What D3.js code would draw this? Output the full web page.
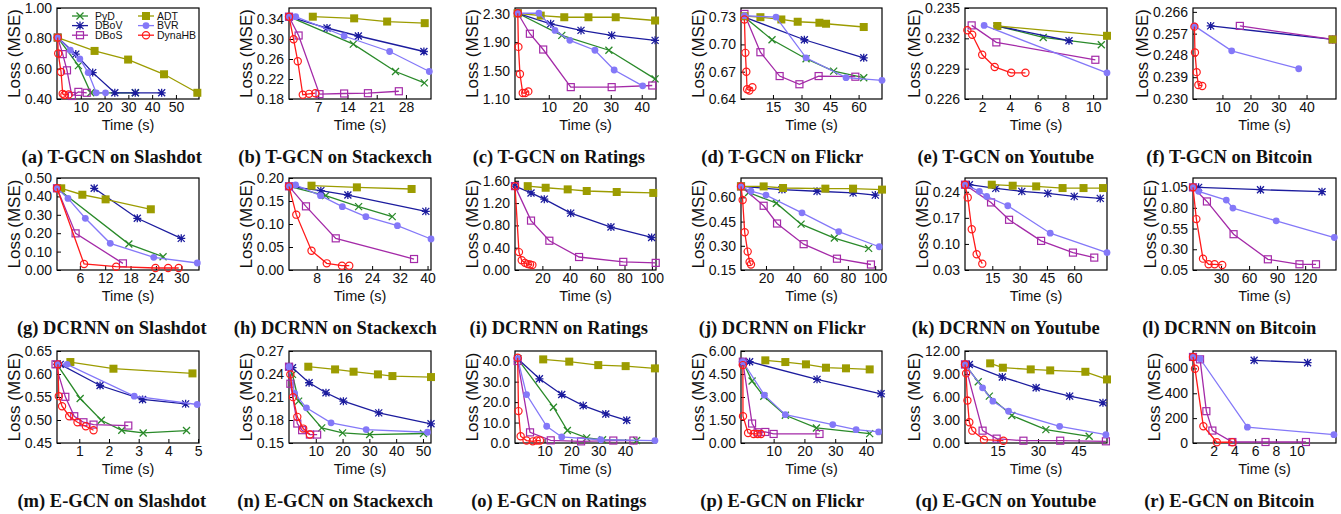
<!DOCTYPE html>
<html>
<head>
<meta charset="utf-8">
<script src="https://cdn.jsdelivr.net/npm/d3@7"></script>
<style>
  body { margin: 0; background: #fff; }
  svg { display: block; }
</style>
</head>
<body>
<svg id="chart" width="1341" height="514"></svg>
<script>
// series in gnuplot order (legend is column-major)
const seriesNames = ["PyD", "DBoV", "DBoS", "ADT", "BVR", "DynaHB"];

const captions = [
  "(a) T-GCN on Slashdot", "(b) T-GCN on Stackexch", "(c) T-GCN on Ratings",
  "(d) T-GCN on Flickr", "(e) T-GCN on Youtube", "(f) T-GCN on Bitcoin",
  "(g) DCRNN on Slashdot", "(h) DCRNN on Stackexch", "(i) DCRNN on Ratings",
  "(j) DCRNN on Flickr", "(k) DCRNN on Youtube", "(l) DCRNN on Bitcoin",
  "(m) E-GCN on Slashdot", "(n) E-GCN on Stackexch", "(o) E-GCN on Ratings",
  "(p) E-GCN on Flickr", "(q) E-GCN on Youtube", "(r) E-GCN on Bitcoin"
];

const xDomains = [
  [0, 59.7], [0, 34], [-0.9, 44.6], [-1.8, 72.3], [0.76, 11.0], [-0.5, 50.5],
  [0.6, 34.2], [0, 41], [0, 103], [1.7, 105], [0, 78], [0, 153],
  [0.25, 5.03], [0, 53], [-1, 51.5], [-0.6, 45.2], [3, 55.5], [0, 13.8]
];
const yDomains = [
  [0.40, 1.00], [0.18, 0.362], [1.10, 2.38], [0.64, 0.74], [0.226, 0.235], [0.230, 0.2676],
  [0, 0.5], [0, 0.20], [0, 1.65], [0.15, 0.72], [0.03, 0.277], [0.05, 1.16],
  [0.45, 0.65], [0.15, 0.27], [0, 45], [0, 6], [0, 12], [0, 740]
];
const xTicks = [
  [10, 20, 30, 40, 50], [7, 14, 21, 28], [10, 20, 30, 40], [15, 30, 45, 60], [2, 4, 6, 8, 10], [10, 20, 30, 40],
  [6, 12, 18, 24, 30], [8, 16, 24, 32, 40], [20, 40, 60, 80, 100], [20, 40, 60, 80, 100], [15, 30, 45, 60], [30, 60, 90, 120],
  [1, 2, 3, 4, 5], [10, 20, 30, 40, 50], [10, 20, 30, 40], [10, 20, 30, 40], [15, 30, 45], [2, 4, 6, 8, 10]
];
const yTicks = [
  [0.40, 0.60, 0.80, 1.00], [0.18, 0.22, 0.26, 0.30, 0.34], [1.10, 1.50, 1.90, 2.30], [0.64, 0.67, 0.70, 0.73],
  [0.226, 0.229, 0.232, 0.235], [0.230, 0.239, 0.248, 0.257, 0.266],
  [0, 0.1, 0.2, 0.3, 0.4, 0.5], [0, 0.05, 0.10, 0.15, 0.20], [0, 0.4, 0.8, 1.2, 1.6], [0.15, 0.30, 0.45, 0.60],
  [0.03, 0.10, 0.17, 0.24], [0.05, 0.30, 0.55, 0.80, 1.05],
  [0.45, 0.50, 0.55, 0.60, 0.65], [0.15, 0.18, 0.21, 0.24, 0.27], [0, 10, 20, 30, 40], [0, 1.5, 3, 4.5, 6],
  [0, 3, 6, 9, 12], [0, 200, 400, 600]
];
const yFormats = [
  ".2f", ".2f", ".2f", ".2f", ".3f", ".3f",
  ".2f", ".2f", ".2f", ".2f", ".2f", ".2f",
  ".2f", ".2f", ".1f", ".2f", ".2f", "d"
];

// [time (s), loss] per series
const tgcnSlashdot = {
  PyD: [[0.3, 0.805], [9, 0.62], [14.2, 0.441], [33, 0.441]],
  DBoV: [[0.3, 0.805], [7.9, 0.696], [15, 0.574], [24.3, 0.441], [32.9, 0.441], [44, 0.441]],
  DBoS: [[0.3, 0.805], [2.4, 0.696], [4.2, 0.589], [6.25, 0.42], [9, 0.447], [12.5, 0.441]],
  ADT: [[0.3, 0.805], [15.8, 0.717], [29.9, 0.66], [45, 0.563], [59, 0.441]],
  BVR: [[0.3, 0.805], [5.6, 0.722], [9.6, 0.664], [13.1, 0.574], [16.5, 0.441], [20.4, 0.441]],
  DynaHB: [[0.3, 0.805], [0.5, 0.70], [1.7, 0.578], [2.4, 0.434], [3.1, 0.426], [4.9, 0.43]]
};
const tgcnStackexch = {
  PyD: [[0, 0.3446], [15.4, 0.2897], [25.5, 0.235], [32.4, 0.2123]],
  DBoV: [[0, 0.3446], [9.1, 0.322], [16.6, 0.306], [32.3, 0.275]],
  DBoS: [[0, 0.3446], [2.3, 0.307], [7.3, 0.1897], [13.2, 0.191], [18.9, 0.1916], [26.3, 0.1955]],
  ADT: [[5.7, 0.3446], [15.6, 0.3413], [23.5, 0.3349], [32.5, 0.3317]],
  BVR: [[0, 0.3446], [1.6, 0.3446], [13.2, 0.306], [24.1, 0.275], [33.6, 0.235]],
  DynaHB: [[0, 0.3446], [1.1, 0.2994], [2.1, 0.2555], [3.3, 0.1884], [4.8, 0.1903], [6.3, 0.1916]]
};
const tgcnRatings = {
  PyD: [[0, 2.306], [14.2, 1.995], [29.4, 1.786], [44.3, 1.383]],
  DBoV: [[0, 2.306], [10.6, 2.157], [20.4, 2.065], [30.3, 1.995], [44.3, 1.925]],
  DBoS: [[0, 2.306], [3.9, 2.018], [8.2, 1.796], [17.1, 1.267], [30.3, 1.267], [43.4, 1.29]],
  ADT: [[0, 2.306], [7.4, 2.273], [15.0, 2.25], [22.8, 2.25], [31.6, 2.25], [44.3, 2.204]],
  BVR: [[0, 2.306], [6.8, 2.306], [12.0, 2.065], [16.8, 1.925], [24.9, 1.786], [31.1, 1.508], [40.3, 1.285]],
  DynaHB: [[0, 2.306], [0.2, 1.833], [0.7, 1.452], [1.6, 1.184], [2.4, 1.184], [3.4, 1.207]]
};
const tgcnFlickr = {
  PyD: [[0, 0.730], [14.5, 0.7051], [32.4, 0.6842], [46.9, 0.6706], [62.7, 0.6634]],
  DBoV: [[0, 0.730], [31.5, 0.7051], [62.7, 0.6853]],
  DBoS: [[0, 0.7335], [8.4, 0.6914], [18.5, 0.6652], [28.9, 0.6562], [39.0, 0.6652], [58.3, 0.6645]],
  ADT: [[0, 0.731], [8.4, 0.7299], [19.4, 0.7274], [28.0, 0.7249], [39.4, 0.7238], [42.9, 0.7227], [62.7, 0.7191]],
  BVR: [[0, 0.7315], [16.6, 0.730], [32.4, 0.6853], [53.4, 0.6634], [72.3, 0.6605]],
  DynaHB: [[0, 0.7274], [0.5, 0.6907], [1.0, 0.6699], [1.4, 0.6508], [2.6, 0.6494], [4.2, 0.653]]
};
const tgcnYoutube = {
  PyD: [[3.09, 0.23322], [6.4, 0.23209], [10.59, 0.23137]],
  DBoV: [[3.09, 0.23322], [8.26, 0.23176]],
  DBoS: [[1.24, 0.23328], [3.02, 0.2316], [10.16, 0.22988]],
  ADT: [[3.09, 0.23322], [11.0, 0.23225]],
  BVR: [[2.14, 0.23328], [11.0, 0.22859]],
  DynaHB: [[0.93, 0.2328], [1.28, 0.23235], [2.0, 0.23037], [2.9, 0.22917], [4.09, 0.22859], [5.12, 0.22859]]
};
const tgcnBitcoin = {
  PyD: [],
  DBoV: [[5.8, 0.2602], [49.3, 0.2546]],
  DBoS: [[16.2, 0.2602], [49.3, 0.2546]],
  ADT: [[49.3, 0.2546]],
  BVR: [[0, 0.2602], [13.3, 0.2499], [37.2, 0.2425]],
  DynaHB: [[0, 0.2599], [0.2, 0.2492], [0.8, 0.2411], [1.4, 0.2358], [2.8, 0.2354]]
};
const dcrnnSlashdot = {
  PyD: [[0.6, 0.444], [17.6, 0.141], [25.7, 0.072]],
  DBoV: [[9.4, 0.444], [19.6, 0.281], [30.0, 0.172]],
  DBoS: [[0.6, 0.444], [5.0, 0.199], [16.2, 0.036]],
  ADT: [[1.6, 0.444], [6.6, 0.409], [12.1, 0.384], [22.8, 0.330]],
  BVR: [[0.6, 0.444], [3.2, 0.389], [7.3, 0.281], [13.2, 0.145], [23.5, 0.069], [33.8, 0.038]],
  DynaHB: [[0.6, 0.444], [7.0, 0.0326], [14.6, 0.018], [23.9, 0.011], [26.9, 0.011], [29.4, 0.011]]
};
const dcrnnStackexch = {
  PyD: [[0, 0.1819], [10.6, 0.1616], [20.1, 0.1377], [29.8, 0.116]],
  DBoV: [[0, 0.1819], [9.2, 0.1725], [17.0, 0.163], [39.5, 0.1275]],
  DBoS: [[0, 0.1819], [4.9, 0.1384], [13.5, 0.0688], [36.1, 0.0239]],
  ADT: [[6.5, 0.1833], [19.6, 0.1797], [35.4, 0.1761]],
  BVR: [[0, 0.1819], [1.9, 0.1848], [9.1, 0.1616], [15.4, 0.1377], [22.2, 0.116], [31.3, 0.0964], [41, 0.0674]],
  DynaHB: [[0, 0.1819], [2.1, 0.1203], [6.5, 0.042], [10.9, 0.0145], [15.3, 0.0094], [17.4, 0.0094]]
};
const dcrnnRatings = {
  PyD: [],
  DBoV: [[0, 1.504], [11.7, 1.382], [21.4, 1.271], [40.7, 1.02], [70.1, 0.77], [99.8, 0.583]],
  DBoS: [[0, 1.504], [11.7, 0.886], [25.1, 0.525], [46.8, 0.233], [79.1, 0.146], [102.8, 0.128]],
  ADT: [[9.3, 1.504], [22.4, 1.475], [38.5, 1.446], [52.4, 1.417], [74.3, 1.399], [101, 1.382]],
  BVR: [],
  DynaHB: [[0, 1.504], [2.9, 0.321], [4.9, 0.175], [7.3, 0.128], [9.3, 0.105], [11.0, 0.099], [12.7, 0.088]]
};
const dcrnnFlickr = {
  PyD: [[1.7, 0.668], [7.3, 0.63], [27.6, 0.564], [45.7, 0.434], [70.1, 0.348], [95.2, 0.284]],
  DBoV: [[1.7, 0.668], [31.7, 0.648], [57.4, 0.638], [83.8, 0.628], [100.1, 0.614]],
  DBoS: [[1.7, 0.668], [18.3, 0.548], [28.1, 0.438], [47.6, 0.31], [72.0, 0.22], [96.9, 0.184]],
  ADT: [[1.7, 0.668], [18.3, 0.668], [32.5, 0.658], [63.5, 0.654], [83.8, 0.654], [105, 0.648]],
  BVR: [[1.7, 0.668], [9.0, 0.638], [20.0, 0.614], [46.4, 0.504], [73.3, 0.388], [103.0, 0.294]],
  DynaHB: [[1.7, 0.668], [2.9, 0.584], [4.4, 0.384], [6.6, 0.264], [8.0, 0.20], [9.0, 0.184]]
};
const dcrnnYoutube = {
  PyD: [],
  DBoV: [[0, 0.259], [2.4, 0.259], [16.9, 0.2492], [31.2, 0.2411], [45.5, 0.2357], [60.0, 0.2276], [74.3, 0.2222]],
  DBoS: [[0, 0.259], [14.3, 0.2114], [24.2, 0.1648], [41.8, 0.1082], [59.3, 0.0767], [71.0, 0.0633]],
  ADT: [[14.7, 0.259], [26.2, 0.2563], [39.1, 0.2545], [53.6, 0.25], [65.1, 0.25], [75.8, 0.25]],
  BVR: [[0, 0.259], [7.9, 0.2411], [11.9, 0.2276], [23.5, 0.2025], [46.8, 0.1288], [78, 0.0767]],
  DynaHB: [[0, 0.259], [1.5, 0.2249], [3.7, 0.1396], [6.4, 0.0723], [9.5, 0.047]]
};
const dcrnnBitcoin = {
  PyD: [],
  DBoV: [[0, 1.047], [6.0, 1.047], [72.2, 1.019], [138, 0.995]],
  DBoS: [[0, 1.047], [14.9, 0.877], [43.4, 0.482], [80.1, 0.179], [113.9, 0.119], [131.6, 0.119]],
  ADT: [],
  BVR: [[0, 1.047], [6.0, 0.999], [35.6, 0.894], [42.7, 0.797], [89.0, 0.643], [151.2, 0.442]],
  DynaHB: [[0, 1.047], [3.6, 0.664], [10.7, 0.187], [16.7, 0.119], [23.1, 0.119], [31.3, 0.111]]
};
const egcnSlashdot = {
  PyD: [[0.25, 0.621], [1.03, 0.5468], [1.74, 0.4995], [2.43, 0.4777], [3.15, 0.4719], [4.61, 0.477]],
  DBoV: [[0.25, 0.621], [0.36, 0.621], [1.70, 0.575], [3.13, 0.5446], [4.58, 0.5351]],
  DBoS: [[0.2, 0.621], [0.53, 0.5504], [0.83, 0.5082], [1.14, 0.4951], [1.48, 0.49], [2.65, 0.4879]],
  ADT: [[0.70, 0.626], [2.15, 0.6115], [4.81, 0.6013]],
  BVR: [[0.25, 0.621], [0.59, 0.621], [2.85, 0.5519], [4.97, 0.5337]],
  DynaHB: [[0.28, 0.621], [0.31, 0.5519], [0.42, 0.53], [0.66, 0.5082], [0.94, 0.4951], [1.22, 0.4864], [1.48, 0.4777]]
};
const egcnStackexch = {
  PyD: [[0, 0.2495], [1.3, 0.2395], [3.6, 0.2046], [12.2, 0.1697], [20.0, 0.1632], [30.1, 0.161], [50.2, 0.1624]],
  DBoV: [[0, 0.2495], [1.3, 0.2482], [7.5, 0.2286], [13.8, 0.2155], [20.3, 0.2046], [33.5, 0.1893], [53, 0.175]],
  DBoS: [[0, 0.2495], [0.5, 0.2273], [3.1, 0.1754], [4.9, 0.1667], [7.8, 0.161], [10.5, 0.161]],
  ADT: [[7.2, 0.2495], [17.2, 0.246], [24.1, 0.243], [33.2, 0.2395], [38.6, 0.2373], [53, 0.236]],
  BVR: [[0, 0.2495], [2.1, 0.2146], [6.5, 0.1959], [15.7, 0.1763], [28.8, 0.1675], [51.7, 0.164]],
  DynaHB: [[0.5, 0.2395], [1.5, 0.2098], [3.1, 0.1841], [5.3, 0.1688], [7.8, 0.161]]
};
const egcnRatings = {
  PyD: [[0, 41.2], [13.3, 17.5], [18.5, 6.1], [25.7, 2.5], [31.6, 1.6], [44.3, 1.2]],
  DBoV: [[0, 41.2], [8.1, 31.4], [16.4, 23.7], [24.4, 18.3], [32.8, 14.2], [40.6, 11.1]],
  DBoS: [[0, 40.1], [4.6, 5.2], [12.3, 1.3], [23.6, 0.8], [35.6, 1.2], [43.1, 1.2]],
  ADT: [[9.5, 40.9], [19.2, 39.8], [30.0, 38.1], [40.2, 37.6], [51.1, 36.5]],
  BVR: [[0, 41.2], [3.3, 23.7], [10.8, 8.2], [16.4, 2.95], [30.9, 1.6], [51.1, 1.2]],
  DynaHB: [[0, 41.7], [0.3, 15.6], [1.1, 3.3], [3.3, 1.2], [5.6, 0.8], [7.1, 1.2], [8.3, 1.2]]
};
const egcnFlickr = {
  PyD: [[0, 5.30], [3.0, 4.04], [6.8, 3.05], [13.8, 1.81], [23.9, 0.98], [41.2, 0.61]],
  DBoV: [[0, 5.30], [2.2, 5.30], [24.1, 4.15], [44.9, 3.21]],
  DBoS: [[0, 5.30], [3.0, 1.27], [4.8, 0.70], [7.3, 0.72], [10.0, 0.59], [24.9, 0.59]],
  ADT: [[7.3, 5.39], [13.8, 5.28], [20.5, 5.13], [27.0, 4.91], [33.5, 4.87], [41.2, 4.80]],
  BVR: [[0, 5.30], [7.0, 3.12], [13.8, 1.85], [29.2, 1.2], [36.8, 0.87], [44.1, 0.72]],
  DynaHB: [[0, 5.08], [0.05, 1.75], [1.7, 0.65], [3.5, 0.59], [4.8, 0.59], [5.9, 0.59]]
};
const egcnYoutube = {
  PyD: [[3, 10.25], [7.9, 7.98], [12.0, 6.11], [20.3, 3.58], [32.9, 1.74], [48.9, 0.87]],
  DBoV: [[3, 10.25], [4.6, 10.25], [16.8, 8.6], [29.3, 7.2], [41.7, 6.11], [54, 5.24]],
  DBoS: [[3, 10.25], [9.5, 1.61], [14.7, 0.57], [24.6, 0.3], [38.2, 0.3], [55.1, 0.22]],
  ADT: [[12.3, 10.39], [17.0, 9.82], [27.3, 9.6], [34.5, 9.47], [47.5, 9.29], [55.5, 8.29]],
  BVR: [[3, 10.25], [9.5, 7.2], [13.3, 5.45], [19.1, 4.14], [38, 2.18], [55.1, 1.09]],
  DynaHB: [[3, 10.25], [3.4, 9.08], [3.9, 5.54], [4.6, 2.7], [5.7, 1.61], [10.0, 0.44], [17.2, 0.3]]
};
const egcnBitcoin = {
  PyD: [],
  DBoV: [[5.9, 665], [11.06, 646]],
  DBoS: [[0, 692], [0.68, 673], [1.29, 256], [1.87, 100], [3.8, 8], [7.0, 8], [10.9, 8]],
  ADT: [],
  BVR: [[0, 692], [0.68, 678], [5.25, 127], [13.6, 67]],
  DynaHB: [[0, 692], [0.19, 597], [1.0, 135], [2.3, 6], [3.8, 6]]
};

const panelData = [
  tgcnSlashdot, tgcnStackexch, tgcnRatings, tgcnFlickr, tgcnYoutube, tgcnBitcoin,
  dcrnnSlashdot, dcrnnStackexch, dcrnnRatings, dcrnnFlickr, dcrnnYoutube, dcrnnBitcoin,
  egcnSlashdot, egcnStackexch, egcnRatings, egcnFlickr, egcnYoutube, egcnBitcoin
];

// look
const colors = {
  PyD: "#2a8a2a", DBoV: "#1c1c9e", DBoS: "#a42aa8",
  ADT: "#9c9c00", BVR: "#8478f8", DynaHB: "#ff1a1a"
};
const sans = "'Liberation Sans', Arial, Helvetica, sans-serif";
const serif = "'Liberation Serif', 'Times New Roman', serif";

const colL = [57, 289, 515, 741, 965, 1193];
const colR = [199, 431, 656, 882, 1107, 1336];
const rowT = [8, 178, 351];
const rowB = [99, 270, 443];

const svg = d3.select("#chart");

function marker(g, name, cx, cy) {
  const c = colors[name];
  const s = 3.5;
  if (name === "PyD") {
    g.append("path").attr("d", `M${cx - s},${cy - s}L${cx + s},${cy + s}M${cx - s},${cy + s}L${cx + s},${cy - s}`)
      .attr("stroke", c).attr("stroke-width", 1.3).attr("fill", "none");
  } else if (name === "DBoV") {
    g.append("path").attr("d", `M${cx - s},${cy - s}L${cx + s},${cy + s}M${cx - s},${cy + s}L${cx + s},${cy - s}` +
      `M${cx - s - 0.5},${cy}L${cx + s + 0.5},${cy}M${cx},${cy - s - 0.5}L${cx},${cy + s + 0.5}`)
      .attr("stroke", c).attr("stroke-width", 1.3).attr("fill", "none");
  } else if (name === "DBoS") {
    g.append("rect").attr("x", cx - s).attr("y", cy - s).attr("width", 2 * s).attr("height", 2 * s)
      .attr("fill", "none").attr("stroke", c).attr("stroke-width", 1.2);
  } else if (name === "ADT") {
    g.append("rect").attr("x", cx - s - 0.5).attr("y", cy - s - 0.5).attr("width", 2 * s + 1).attr("height", 2 * s + 1)
      .attr("fill", c);
  } else if (name === "BVR") {
    g.append("circle").attr("cx", cx).attr("cy", cy).attr("r", 3.4).attr("fill", c);
  } else {
    g.append("circle").attr("cx", cx).attr("cy", cy).attr("r", 3.6)
      .attr("fill", "none").attr("stroke", c).attr("stroke-width", 1.2);
  }
}

panelData.forEach((data, i) => {
  const c = i % 6, r = Math.floor(i / 6);
  const x = d3.scaleLinear().domain(xDomains[i]).range([colL[c], colR[c]]);
  const y = d3.scaleLinear().domain(yDomains[i]).range([rowB[r], rowT[r]]);
  const g = svg.append("g");

  // x axis (ticks point inward)
  const xa = g.append("g")
    .attr("transform", `translate(0,${rowB[r]})`)
    .call(d3.axisBottom(x).tickValues(xTicks[i]).tickSizeInner(-4).tickSizeOuter(0).tickPadding(3).tickFormat(d3.format("d")));
  const ya = g.append("g")
    .attr("transform", `translate(${colL[c]},0)`)
    .call(d3.axisLeft(y).tickValues(yTicks[i]).tickSizeInner(-4).tickSizeOuter(0).tickPadding(5).tickFormat(d3.format(yFormats[i])));
  [xa, ya].forEach(a => {
    a.select(".domain").remove();
    a.selectAll("line").attr("stroke", "#000");
    a.selectAll("text").attr("font-family", sans).attr("font-size", 14).attr("fill", "#111");
  });

  // plot border
  g.append("rect")
    .attr("x", colL[c]).attr("y", rowT[r])
    .attr("width", colR[c] - colL[c]).attr("height", rowB[r] - rowT[r])
    .attr("fill", "none").attr("stroke", "#000").attr("stroke-width", 1.2);

  // axis titles
  let maxW = 0;
  ya.selectAll("text").each(function () { maxW = Math.max(maxW, this.getComputedTextLength()); });
  g.append("text")
    .attr("transform", `translate(${colL[c] - maxW - 10},${(rowT[r] + rowB[r]) / 2}) rotate(-90)`)
    .attr("text-anchor", "middle")
    .attr("font-family", sans).attr("font-size", 17).attr("fill", "#111")
    .text("Loss (MSE)");
  g.append("text")
    .attr("x", (colL[c] + colR[c]) / 2).attr("y", rowB[r] + 31)
    .attr("text-anchor", "middle")
    .attr("font-family", sans).attr("font-size", 14.5).attr("fill", "#111")
    .text("Time (s)");

  // series
  const line = d3.line().x(d => x(d[0])).y(d => y(d[1]));
  seriesNames.forEach(name => {
    const pts = data[name];
    if (!pts || !pts.length) return;
    const sg = g.append("g");
    sg.append("path").attr("d", line(pts)).attr("fill", "none")
      .attr("stroke", colors[name]).attr("stroke-width", 1.3);
    pts.forEach(p => marker(sg, name, x(p[0]), y(p[1])));
  });

  // caption
  svg.append("text")
    .attr("x", 1341 / 6 * (c + 0.5)).attr("y", rowB[r] + 64)
    .attr("text-anchor", "middle")
    .attr("font-family", serif).attr("font-weight", "bold").attr("font-size", 18.5).attr("fill", "#111")
    .text(captions[i]);
});

// legend inside panel (a)
const lg = svg.append("g");
seriesNames.forEach((name, k) => {
  const col = Math.floor(k / 3), row = k % 3;
  const sx = col === 0 ? 72 : 138;
  const tx = col === 0 ? 95 : 157;
  const ly = 16 + row * 9.6;
  lg.append("line").attr("x1", sx).attr("x2", sx + 16).attr("y1", ly).attr("y2", ly)
    .attr("stroke", colors[name]).attr("stroke-width", 1.3);
  marker(lg, name, sx + 8, ly);
  lg.append("text").attr("x", tx).attr("y", ly + 3.8)
    .attr("font-family", sans).attr("font-size", 10.5).attr("fill", "#111")
    .text(name);
});
</script>
</body>
</html>
